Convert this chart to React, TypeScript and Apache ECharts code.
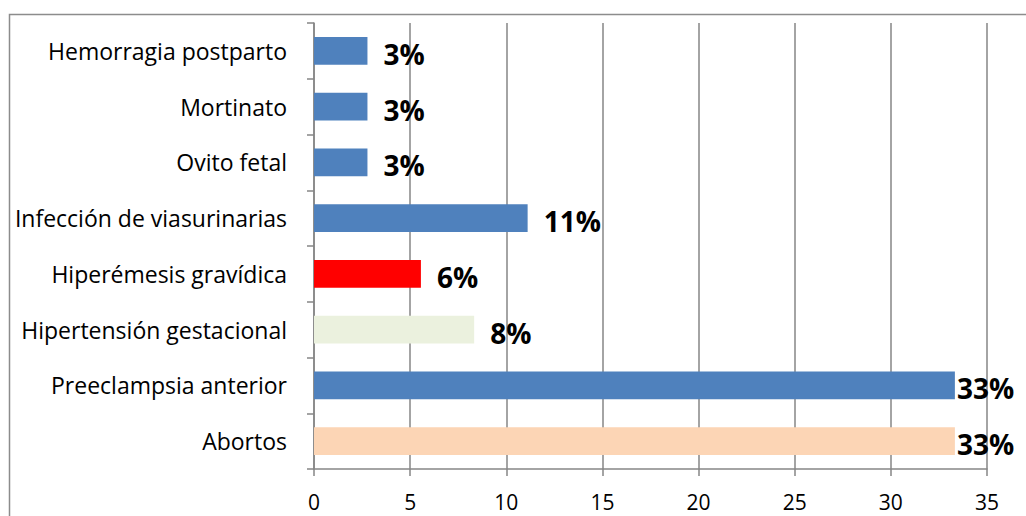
import React, { useEffect, useRef } from "react";
import * as echarts from "echarts";

const categories = [
  "Abortos",
  "Preeclampsia anterior",
  "Hipertensión gestacional",
  "Hiperémesis gravídica",
  "Infección de viasurinarias",
  "Ovito fetal",
  "Mortinato",
  "Hemorragia postparto",
];
const values = [33.33, 33.33, 8.33, 5.56, 11.11, 2.78, 2.78, 2.78];
const labels = ["33%", "33%", "8%", "6%", "11%", "3%", "3%", "3%"];
const colors = ["#FCD5B5", "#4F81BD", "#EBF1DE", "#FF0000", "#4F81BD", "#4F81BD", "#4F81BD", "#4F81BD"];
const xTicks = { min: 0, max: 35, interval: 5 };

export default function App() {
  const ref = useRef<HTMLDivElement>(null);
  useEffect(() => {
    document.body.style.margin = "0";
    const chart = echarts.init(ref.current!, null, { renderer: "svg" });
    const font = "'Open Sans', 'Noto Sans', sans-serif";
    chart.setOption({
      animation: false,
      backgroundColor: "#ffffff",
      graphic: [
        {
          type: "rect",
          shape: { x: 9.5, y: 14.5, width: 1100, height: 600 },
          style: { fill: "none", stroke: "#8c8c8c", lineWidth: 1.5 },
          silent: true,
        },
      ],
      grid: { left: 314, right: 39, top: 23, bottom: 47, containLabel: false },
      xAxis: {
        type: "value",
        min: xTicks.min,
        max: xTicks.max,
        interval: xTicks.interval,
        axisLine: { show: true, lineStyle: { color: "#868686", width: 1.5 } },
        axisTick: { show: true, length: 7, lineStyle: { color: "#868686", width: 1.5 } },
        splitLine: { show: true, lineStyle: { color: "#868686", width: 1.5 } },
        axisLabel: { color: "#000", fontFamily: font, fontSize: 21, lineHeight: 20, margin: 23 },
      },
      yAxis: {
        type: "category",
        data: categories,
        axisLine: { show: true, lineStyle: { color: "#868686", width: 1.5 } },
        axisTick: { show: true, length: 7, lineStyle: { color: "#868686", width: 1.5 } },
        axisLabel: { color: "#000", fontFamily: font, fontSize: 23, margin: 27 },
      },
      series: [
        {
          type: "bar",
          barWidth: "50%",
          data: values.map((v, i) => ({
            value: v,
            itemStyle: { color: colors[i] },
            label: {
              show: true,
              position: "right",
              distance: v > 30 ? 2 : 16,
              offset: [0, 3],
              formatter: () => labels[i],
              fontFamily: font,
              fontWeight: "bold",
              fontSize: 28,
              color: "#000",
            },
          })),
        },
      ],
    });
    return () => chart.dispose();
  }, []);
  return <div ref={ref} style={{ width: 1026, height: 516 }} />;
}
